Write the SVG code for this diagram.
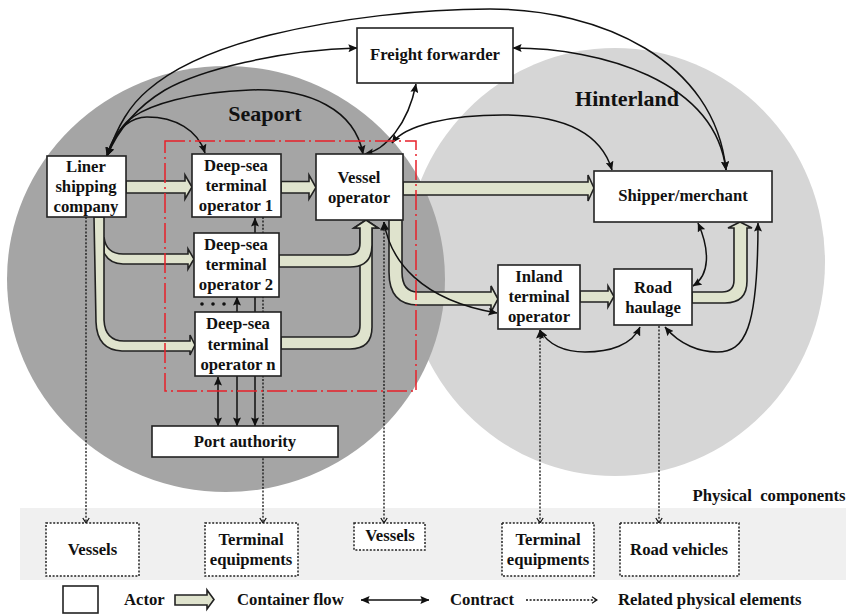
<svg xmlns="http://www.w3.org/2000/svg" width="848" height="614" viewBox="0 0 848 614">
<style>
text{font-family:"Liberation Serif","Times New Roman",serif;font-weight:bold;font-size:16.7px;fill:#111;text-anchor:middle;white-space:pre}
.box{fill:#fff;stroke:#222;stroke-width:1.6}
.dbox{fill:#fff;stroke:#222;stroke-width:1.5;stroke-dasharray:2 1.6}
.flow{fill:#dfe3cd;stroke:#222;stroke-width:1.6;stroke-linejoin:miter}
.c{fill:none;stroke:#111;stroke-width:1.5;marker-start:url(#a);marker-end:url(#a)}
.d{fill:none;stroke:#111;stroke-width:1.3;stroke-dasharray:2 1.6;marker-end:url(#o)}
.ds{marker-start:url(#a)}
.l{text-anchor:start}
</style>
<defs>
<marker id="a" viewBox="0 0 9 8" refX="8.6" refY="4" markerWidth="9" markerHeight="8" markerUnits="userSpaceOnUse" orient="auto-start-reverse"><path d="M0 0L9 4L0 8L1.5 4Z" fill="#111"/></marker>
<marker id="o" viewBox="0 0 7 8" refX="6" refY="4" markerWidth="7" markerHeight="8" markerUnits="userSpaceOnUse" orient="auto"><path d="M1 .8L6 4L1 7.2" fill="none" stroke="#111" stroke-width="1.2"/></marker>
</defs>
<rect width="848" height="614" fill="#fff"/>
<ellipse cx="615" cy="262" rx="210" ry="214" fill="#d6d6d6"/>
<ellipse cx="226" cy="279" rx="219" ry="213" fill="#a5a5a5"/>
<rect x="20" y="508" width="826" height="72" fill="#f0f0f0"/>
<text x="265" y="121" style="font-size:22px">Seaport</text>
<text x="627" y="106" style="font-size:22px">Hinterland</text>
<text x="769" y="501">Physical  components</text>

<g id="connectors">
<g id="container-flows">
<path class="flow" d="M126 181H185V175L192 187L185 199V193H126Z"/>
<path class="flow" d="M281 181.500H309V175L316 187.500L309 199V193H281Z"/>
<path class="flow" d="M403 182H588V175L594 188L588 201V195H403Z"/>
<path class="flow" d="M104 237Q106 254 123 254H188V249L194 259L188 269V264H123Q110 264 104 253Z"/>
<path class="flow" d="M94 217H104V320Q105 341 124 341H190V335L195 345L190 355V351H122Q97 350 96 322Z"/>
<path class="flow" d="M281 337H350Q360 337 360 325V228H354L366 220L378 228H372V327Q372 349 350 349H281Z"/>
<path class="flow" d="M279 255H348Q360 255 360 243V228H354L366 220L378 228H372V245Q372 267 350 267H279Z"/>
<path class="flow" d="M389 220H402V272Q402 292 418 292H491V286L498 299L491 312V305H418Q389 305 389 272Z"/>
<path class="flow" d="M580 291H608V286L614 296.500L608 307V302H580Z"/>
<path class="flow" d="M692 292H722Q734 292 734 280V228H728L740 222L752 228H747V281Q747 303 725 303H692Z"/>
</g>
<g id="contracts">
<path class="c" d="M107 156C118 125 130 105 148 90C180 62 230 45 270 35C340 18 420 9 490 9C600 9 715 60 726 170"/>
<path class="c" d="M107 156C120 125 140 105 165 90C200 70 280 50 357 48"/>
<path class="c" d="M513 48C600 48 715 80 726 170"/>
<path class="c" d="M107 156C115 135 125 122 133 117C150 105 190 92 250 90C310 88 355 110 363 154"/>
<path class="c" d="M107 156C115 125 135 117 147 117C175 117 198 130 205 153"/>
<path class="c" d="M365 154C385 150 408 125 416 84"/>
<path class="c" d="M392 143C405 125 450 115 503 115C560 115 600 130 612 170"/>
<path class="c" d="M384 222C390 260 420 300 497 313"/>
<path class="c" d="M540 330C548 345 565 352 585 352C610 352 632 345 640 327"/>
<path class="c" d="M665 327C680 345 700 352 717 352C745 352 758 330 758 223"/>
<path class="c" d="M698 223C710 250 710 275 693 286"/>
<path class="c" d="M218 377V426"/>
<path class="c" d="M237 297V426"/>
<path class="c" d="M255 218V426"/>
<path class="c" d="M361 600H429"/>
</g>
<g id="physical-links">
<path class="d" d="M86 217V523"/>
<path class="d" d="M263 217V523"/>
<path class="d ds" d="M384 222V523"/>
<path class="d ds" d="M540 330V523"/>
<path class="d" d="M659 326V523"/>
<path class="d" d="M526 600H597"/>
</g>
<rect x="165" y="141" width="251" height="250" fill="none" stroke="#e8202a" stroke-width="1.5" stroke-dasharray="20 4 2 4"/>
</g>

<g id="liner"><rect class="box" x="47" y="156" width="79" height="61"/><text x="86" y="172">Liner</text><text x="86" y="192">shipping</text><text x="86" y="212">company</text></g>
<g id="ds1"><rect class="box" x="192" y="154" width="89" height="63"/><text x="236" y="171">Deep-sea</text><text x="236" y="191">terminal</text><text x="236" y="211">operator 1</text></g>
<g id="ds2"><rect class="box" x="194" y="233" width="85" height="64"/><text x="236" y="250">Deep-sea</text><text x="236" y="270">terminal</text><text x="236" y="290">operator 2</text></g>
<g id="dots"><circle cx="202" cy="304" r="1.8" fill="#111"/><circle cx="213" cy="304" r="1.8" fill="#111"/><circle cx="224" cy="304" r="1.8" fill="#111"/></g>
<g id="dsn"><rect class="box" x="195" y="312" width="86" height="64"/><text x="238" y="329">Deep-sea</text><text x="238" y="350">terminal</text><text x="238" y="370">operator n</text></g>
<g id="vessel-operator"><rect class="box" x="316" y="154" width="87" height="66"/><text x="359" y="183">Vessel</text><text x="359" y="203">operator</text></g>
<g id="freight-forwarder"><rect class="box" x="357" y="28" width="156" height="55"/><text x="435" y="60">Freight forwarder</text></g>
<g id="shipper"><rect class="box" x="594" y="171" width="178" height="51"/><text x="683" y="201">Shipper/merchant</text></g>
<g id="inland"><rect class="box" x="498" y="265" width="82" height="64"/><text x="539" y="282">Inland</text><text x="539" y="302">terminal</text><text x="539" y="322">operator</text></g>
<g id="road-haulage"><rect class="box" x="614" y="269" width="78" height="56"/><text x="653" y="293">Road</text><text x="653" y="313">haulage</text></g>
<g id="port-authority"><rect class="box" x="152" y="426" width="186" height="31"/><text x="245" y="447">Port authority</text></g>

<g id="vessels-1"><rect class="dbox" x="46" y="523" width="93" height="53"/><text x="92.500" y="555">Vessels</text></g>
<g id="terminal-1"><rect class="dbox" x="205" y="523" width="93" height="53"/><text x="251" y="545">Terminal</text><text x="251" y="565">equipments</text></g>
<g id="vessels-2"><rect class="dbox" x="354" y="523" width="71" height="27"/><text x="390" y="541">Vessels</text></g>
<g id="terminal-2"><rect class="dbox" x="502" y="523" width="92" height="53"/><text x="548" y="545">Terminal</text><text x="548" y="565">equipments</text></g>
<g id="road-vehicles"><rect class="dbox" x="620" y="523" width="119" height="53"/><text x="679" y="555">Road vehicles</text></g>

<g id="legend">
<rect class="box" x="63" y="586" width="35" height="27"/>
<text class="l" x="124" y="605">Actor</text>
<path class="flow" d="M175 595H207V590L214 599.500L207 609V605H175Z"/>
<text class="l" x="237" y="605">Container flow</text>
<text class="l" x="450" y="605">Contract</text>
<text class="l" x="618" y="605">Related physical elements</text>
</g>
</svg>
